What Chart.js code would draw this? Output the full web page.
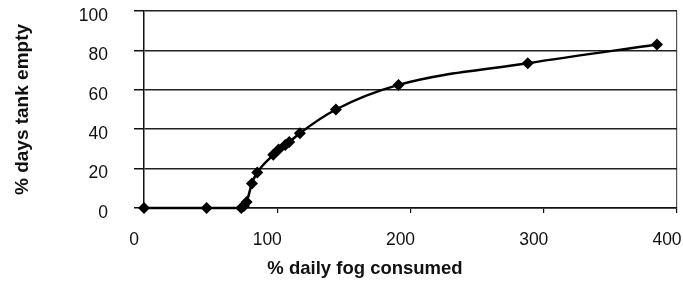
<!DOCTYPE html>
<html>
<head>
<meta charset="utf-8">
<script src="https://cdn.jsdelivr.net/npm/chart.js@4"></script>
<style>
  html, body { margin: 0; padding: 0; background: #fff; }
  #wrap { width: 683px; height: 285px; position: relative; }
</style>
</head>
<body>
<div id="wrap"><canvas id="fogChart"></canvas></div>
<script>
// % daily fog consumed (x) vs % days tank empty (y)
const fogConsumed = [0, 47, 73, 75, 77, 81, 85, 97, 101, 106, 109, 117, 144, 191, 288, 385];
const daysEmpty   = [0, 0, 0, 1, 3, 12.5, 18, 27, 29.7, 32, 33.5, 38, 50, 62.5, 73.5, 83];

const xTicks = [0, 100, 200, 300, 400];
const yTicks = [0, 20, 40, 60, 80, 100];

const xTitle = "% daily fog consumed";
const yTitle = "% days tank empty";

const points = fogConsumed.map((x, i) => ({ x: x, y: daysEmpty[i] }));

// x-axis title sits left of centre in the original, so draw it by hand
const xTitlePlugin = {
    id: "xTitle",
    afterDraw(chart) {
        const ctx = chart.ctx;
        ctx.save();
        ctx.font = "bold 18.5px 'Liberation Sans', Arial, sans-serif";
        ctx.fillStyle = "#111";
        ctx.textAlign = "center";
        ctx.textBaseline = "middle";
        ctx.fillText(xTitle, 365, 269);
        ctx.restore();
    }
};

new Chart(document.getElementById("fogChart"), {
    type: "line",
    data: {
        datasets: [{
            data: points,
            borderColor: "#000",
            borderWidth: 2.5,
            backgroundColor: "#000",
            pointStyle: "rectRot",
            pointRadius: 6,
            pointBorderWidth: 0,
            cubicInterpolationMode: "monotone",
            clip: false,
            fill: false
        }]
    },
    options: {
        responsive: true,
        maintainAspectRatio: false,
        animation: false,
        layout: { padding: { left: 8, top: 11, right: 0, bottom: 36 } },
        plugins: {
            legend: { display: false },
            tooltip: { enabled: false }
        },
        scales: {
            x: {
                type: "linear",
                min: 0,
                max: 400,
                afterBuildTicks: s => { s.ticks = xTicks.map(v => ({ value: v })); },
                afterFit: s => { s.paddingLeft = 0; s.paddingRight = 3; s.height = 41; },
                border: { color: "#111", width: 1.5 },
                grid: {
                    color: c => c.tick && c.tick.value === 400 ? "#555" : "rgba(0,0,0,0)",
                    tickColor: "#111",
                    tickLength: 5,
                    lineWidth: 1.2
                },
                ticks: {
                    color: "#111",
                    font: { family: "'Liberation Sans', Arial, sans-serif", size: 17.5 },
                    padding: 17,
                    labelOffset: -10,
                    maxRotation: 0
                }
            },
            y: {
                min: 0,
                max: 100,
                afterBuildTicks: s => { s.ticks = yTicks.map(v => ({ value: v })); },
                afterFit: s => { s.paddingTop = 0; s.paddingBottom = 0; s.width = 136; },
                border: { color: "#111", width: 1.5 },
                grid: {
                    color: "#222",
                    lineWidth: 1.5,
                    tickColor: "#111",
                    tickLength: 10
                },
                ticks: {
                    color: "#111",
                    font: { family: "'Liberation Sans', Arial, sans-serif", size: 17.5 },
                    padding: 26,
                    labelOffset: 5
                },
                title: {
                    display: true,
                    text: yTitle,
                    color: "#111",
                    font: { family: "'Liberation Sans', Arial, sans-serif", size: 19, weight: "bold" },
                    padding: { top: 3, bottom: 46 }
                }
            }
        }
    },
    plugins: [xTitlePlugin]
});
</script>
</body>
</html>
